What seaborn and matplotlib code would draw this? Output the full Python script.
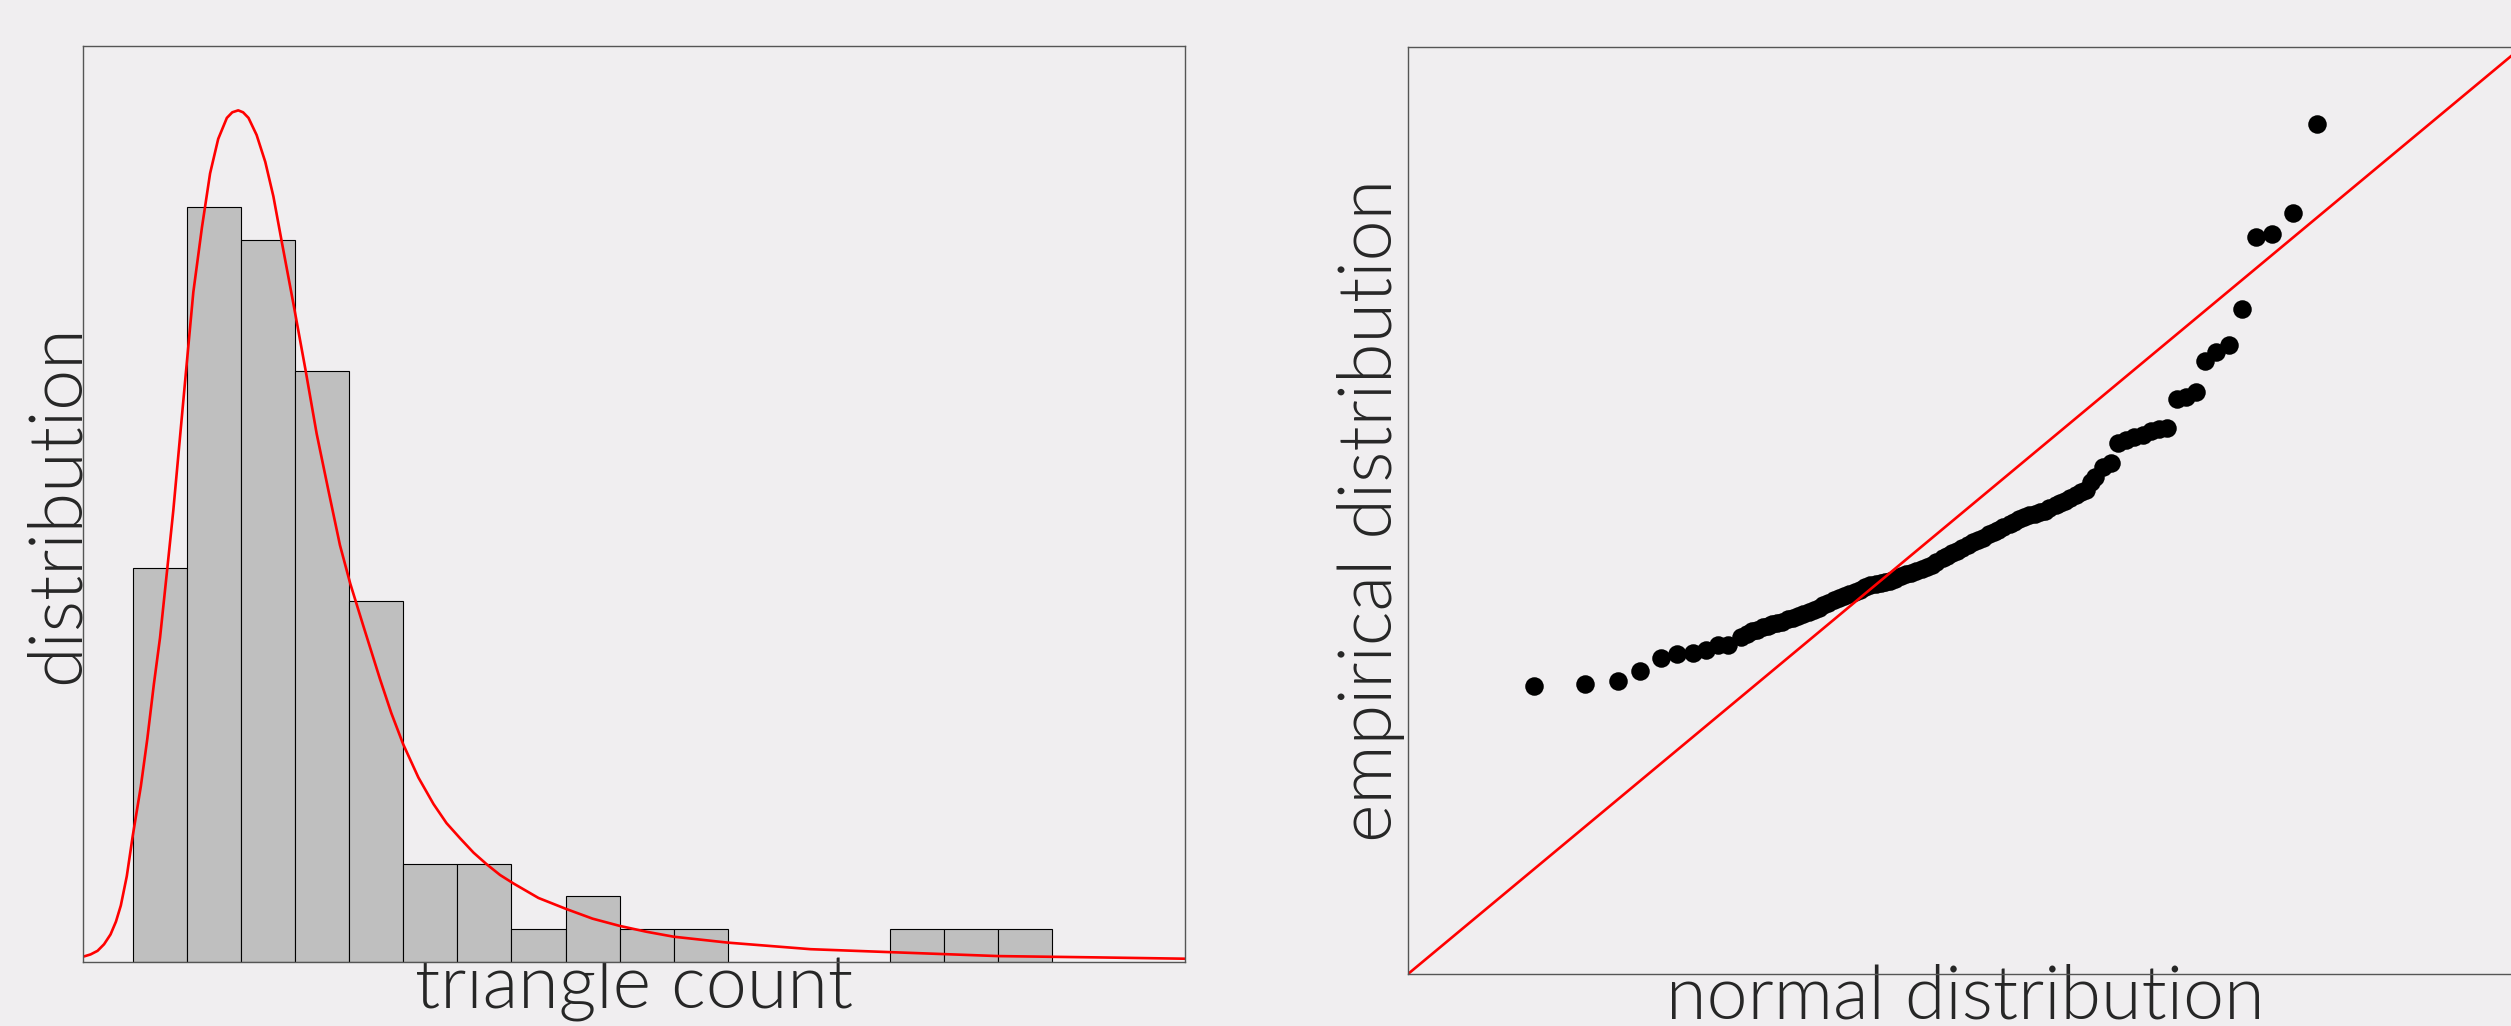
import matplotlib
matplotlib.use("Agg")
import matplotlib.pyplot as plt
import seaborn as sns
import pandas as pd
import numpy as np

# histogram of triangle counts (equal-width bins, counts per bin)
bin_counts = [12, 23, 22, 18, 11, 3, 3, 1, 2, 1, 1, 0, 0, 0, 1, 1, 1]

# fitted density curve (bin units, count units)
fit_x = [-0.90, -0.78, -0.65, -0.53, -0.41, -0.31, -0.22, -0.11, 0.00, 0.15, 0.27,
         0.39, 0.505, 0.64, 0.75, 0.97, 1.12, 1.28, 1.43, 1.58, 1.74, 1.84, 1.95,
         2.04, 2.14, 2.29, 2.45, 2.60, 2.75, 2.97, 3.19, 3.40, 3.62, 3.83, 4.02,
         4.26, 4.57, 4.78, 5.00, 5.28, 5.56, 5.80, 6.05, 6.30, 6.54, 6.79, 7.04,
         7.50, 8.02, 8.50, 9.00, 9.50, 10.0, 11.0, 12.53, 14.0, 16.0, 17.83, 19.45]
fit_y = [0.17, 0.23, 0.34, 0.54, 0.84, 1.23, 1.72, 2.61, 3.84, 5.35, 6.80,
         8.45, 9.88, 12.0, 13.75, 17.72, 20.40, 22.38, 24.02, 25.07, 25.71, 25.88, 25.94,
         25.88, 25.71, 25.19, 24.37, 23.32, 21.98, 20.05, 18.07, 16.09, 14.34, 12.70, 11.53,
         10.25, 8.62, 7.58, 6.63, 5.62, 4.81, 4.23, 3.77, 3.33, 2.98, 2.65, 2.39,
         1.95, 1.61, 1.32, 1.10, 0.92, 0.77, 0.59, 0.39, 0.30, 0.18, 0.14, 0.10]

# Q-Q plot: normal sample (x) vs empirical values (y)
qq_x = [-2.46, -2.14, -1.93, -1.79, -1.66, -1.56, -1.46, -1.38, -1.30, -1.24, -1.16,
        -1.12, -1.09, -1.06, -1.02, -0.99, -0.96, -0.93, -0.90, -0.86, -0.83,
        -0.80, -0.77, -0.73, -0.70, -0.67, -0.64, -0.61, -0.57, -0.54, -0.51,
        -0.48, -0.44, -0.41, -0.38, -0.35, -0.31, -0.28, -0.25, -0.22, -0.19,
        -0.15, -0.12, -0.09, -0.06, -0.02, 0.01, 0.04, 0.07, 0.11, 0.14,
        0.17, 0.20, 0.23, 0.27, 0.30, 0.33, 0.36, 0.40, 0.43, 0.46,
        0.49, 0.53, 0.56, 0.59, 0.62, 0.65, 0.69, 0.72, 0.75, 0.78,
        0.82, 0.85, 0.88, 0.91, 0.95, 0.98, 1.01,
        1.04, 1.07, 1.12, 1.17, 1.21, 1.26, 1.31, 1.37, 1.42, 1.47, 1.52,
        1.58, 1.64, 1.70, 1.76, 1.83, 1.91, 1.99, 2.08, 2.18, 2.31, 2.46]
qq_y = [-1.075, -1.06, -1.037, -0.961, -0.863, -0.833, -0.825, -0.803, -0.765, -0.765, -0.705,
        -0.68, -0.66, -0.65, -0.63, -0.62, -0.61, -0.60, -0.59, -0.57, -0.56,
        -0.545, -0.534, -0.52, -0.503, -0.484, -0.465, -0.447, -0.427, -0.412, -0.398,
        -0.383, -0.363, -0.347, -0.331, -0.316, -0.305, -0.298, -0.292, -0.281, -0.265,
        -0.244, -0.231, -0.22, -0.209, -0.195, -0.178, -0.158, -0.139, -0.112, -0.092,
        -0.072, -0.053, -0.033, -0.008, 0.01, 0.028, 0.046, 0.07, 0.088, 0.106,
        0.124, 0.148, 0.166, 0.184, 0.202, 0.213, 0.227, 0.238, 0.25, 0.266,
        0.288, 0.304, 0.322, 0.343, 0.37, 0.388, 0.406,
        0.466, 0.504, 0.579, 0.61, 0.761, 0.783, 0.806, 0.821, 0.851, 0.866, 0.874,
        1.093, 1.108, 1.146, 1.38, 1.448, 1.501, 1.773, 2.316, 2.339, 2.498, 3.17]

bg = "#f0eef0"
sns.set_style("white")
plt.rcParams["font.family"] = ["Lato", "DejaVu Sans"]

fig = plt.figure(figsize=(25.11, 10.26), dpi=100, facecolor=bg)
label_kw = dict(fontsize=53, fontweight=300)

# left: histogram + fitted curve
ax1 = fig.add_axes([0.03325, 0.06238, 0.43867, 0.89279])
centers = np.arange(len(bin_counts)) + 0.5
hist_df = pd.DataFrame({"x": centers, "w": bin_counts})
sns.histplot(data=hist_df, x="x", weights="w", binwidth=1,
             binrange=(0, len(bin_counts)), ax=ax1,
             color="#bfbfbf", alpha=1, edgecolor="black", linewidth=0.8)
fit_df = pd.DataFrame({"x": fit_x, "y": fit_y})
sns.lineplot(data=fit_df, x="x", y="y", ax=ax1, color="red", linewidth=1.9,
             sort=False, estimator=None)
ax1.set_xlim(-0.91, 19.45)
ax1.set_ylim(0, 27.9)
ax1.set_xlabel("triangle count", labelpad=-6, **label_kw)
ax1.set_ylabel("distribution", labelpad=-6, **label_kw)

# right: Q-Q plot
ax2 = fig.add_axes([0.56073, 0.05068, 0.44365, 0.90351])
qq_df = pd.DataFrame({"normal": qq_x, "empirical": qq_y})
sns.scatterplot(data=qq_df, x="normal", y="empirical", ax=ax2, color="black",
                s=178, linewidth=0)
ax2.axline((0, 0), slope=1, color="red", linewidth=1.9)
ax2.set_xlim(-3.25, 3.75)
ax2.set_ylim(-3.25, 3.75)
ax2.set_xlabel("normal distribution", labelpad=-7, **label_kw)
ax2.set_ylabel("empirical distribution", labelpad=2, **label_kw)

for ax in (ax1, ax2):
    ax.set_facecolor(bg)
    ax.set_xticks([])
    ax.set_yticks([])
    for sp in ax.spines.values():
        sp.set_color("#555555")
        sp.set_linewidth(1.0)

fig.savefig("out.png", dpi=100, facecolor=bg)
